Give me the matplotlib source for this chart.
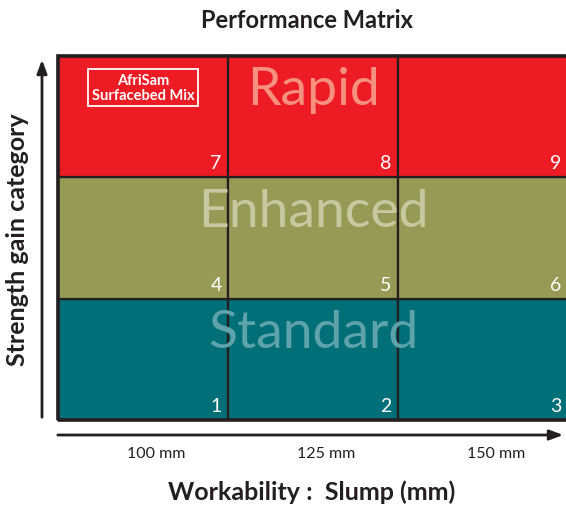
import matplotlib.pyplot as plt

plt.rcParams['font.family'] = ['Lato', 'DejaVu Sans']

# data
categories = ['Standard', 'Enhanced', 'Rapid']
slumps = ['100 mm', '125 mm', '150 mm']
cell_numbers = [[1, 2, 3], [4, 5, 6], [7, 8, 9]]
row_colors = ['#006f78', '#969a55', '#ed1c24']
label_colors = ['#5ea3aa', '#c6c99f', '#f6917f']

fig = plt.figure(figsize=(5.66, 5.06), dpi=100)
W, H = 566, 506

ax = fig.add_axes([58 / W, (H - 421) / H, 510 / W, 364 / H])
ax.set_xlim(0, 3)
ax.set_ylim(0, 3)
ax.axis('off')

for r, cat in enumerate(categories):
    for c in range(3):
        ax.add_patch(plt.Rectangle((c, r), 1, 1, facecolor=row_colors[r],
                                   edgecolor='#231f20', lw=1.6, clip_on=False))
        ax.text(c + 0.962, r + 0.12, str(cell_numbers[r][c]), color='white',
                fontsize=14, ha='right', va='center')
    ax.text(1.5, r + 0.72, cat, color=label_colors[r], fontsize=38.5,
            ha='center', va='center')

# outer border
ax.add_patch(plt.Rectangle((0, 0), 3, 3, fill=False, edgecolor='#231f20',
                           lw=2.6, clip_on=False))

# product label box
ax.text(0.5, 2.74, 'AfriSam\nSurfacebed Mix', color='white', fontsize=10.5,
        fontweight='bold', ha='center', va='center', linespacing=1.1,
        bbox=dict(boxstyle='square,pad=0.25', facecolor='none',
                  edgecolor='white', lw=1.3))

# axis arrows
arrow = dict(arrowstyle='-|>,head_length=0.8,head_width=0.3', color='#231f20', lw=2)
fig.add_artist(plt.Annotation('', xy=(42 / W, (H - 58) / H), xytext=(42 / W, (H - 421) / H),
                              xycoords='figure fraction', arrowprops=arrow))
fig.add_artist(plt.Annotation('', xy=(566 / W, (H - 436) / H), xytext=(55 / W, (H - 436) / H),
                              xycoords='figure fraction', arrowprops=arrow))

# slump tick labels
for c, s in enumerate(slumps):
    ax.text(c + 0.58, -0.27, s, color='#231f20', fontsize=11.5, ha='center', va='center')

fig.text(307 / W, 1 - 20 / H, 'Performance Matrix', fontsize=17, fontweight='bold',
         color='#231f20', ha='center', va='center')
fig.text(312 / W, 1 - 492 / H, 'Workability :  Slump (mm)', fontsize=18, fontweight='bold',
         color='#231f20', ha='center', va='center')
fig.text(18 / W, 1 - 240 / H, 'Strength gain category', fontsize=18, fontweight='bold',
         color='#231f20', ha='center', va='center', rotation=90)

fig.savefig('out.png', dpi=100)
